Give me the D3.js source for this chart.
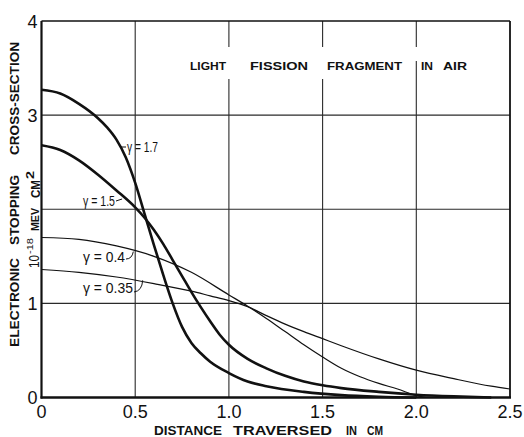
<!DOCTYPE html>
<html>
<head>
<meta charset="utf-8">
<script src="https://cdn.jsdelivr.net/npm/d3@7"></script>
<style>
  body { margin: 0; background: #fff; }
  svg { display: block; }
</style>
</head>
<body>
<svg id="chart" width="524" height="437"></svg>
<script>
// Axis ticks and labels
const xTicks = [0, 0.5, 1.0, 1.5, 2.0, 2.5];
const xTickLabels = ["0", "0.5", "1.0", "1.5", "2.0", "2.5"];
const yTicks = [0, 1, 2, 3, 4];
const yTickLabels = ["0", "1", "", "3", "4"];

// Stopping cross-section (10^-18 MeV cm^2) against distance traversed (cm)
const xGamma17 = [0, 0.1, 0.2, 0.3, 0.35, 0.4, 0.45, 0.5, 0.55, 0.6, 0.65, 0.7, 0.75, 0.8, 0.85, 0.9, 1.0, 1.1, 1.2, 1.4, 1.6, 1.8, 2.0];
const yGamma17 = [3.27, 3.23, 3.12, 2.97, 2.87, 2.74, 2.55, 2.28, 1.95, 1.62, 1.30, 1.00, 0.75, 0.58, 0.47, 0.38, 0.26, 0.17, 0.12, 0.06, 0.025, 0.008, 0.0];

const xGamma15 = [0, 0.1, 0.2, 0.3, 0.4, 0.5, 0.55, 0.6, 0.65, 0.7, 0.75, 0.8, 0.85, 0.9, 0.95, 1.0, 1.1, 1.2, 1.3, 1.4, 1.5, 1.6, 1.8, 2.0, 2.2, 2.4];
const yGamma15 = [2.68, 2.63, 2.52, 2.37, 2.20, 2.02, 1.91, 1.78, 1.63, 1.46, 1.29, 1.12, 0.96, 0.81, 0.67, 0.56, 0.41, 0.31, 0.23, 0.17, 0.13, 0.10, 0.06, 0.03, 0.012, 0.0];

const xGamma04 = [0, 0.2, 0.4, 0.6, 0.8, 1.0, 1.1, 1.2, 1.3, 1.4, 1.5, 1.6, 1.7, 1.8, 1.9, 2.0, 2.05];
const yGamma04 = [1.70, 1.68, 1.61, 1.50, 1.33, 1.09, 0.97, 0.84, 0.70, 0.56, 0.43, 0.31, 0.22, 0.15, 0.09, 0.02, 0.0];

const xGamma035 = [0, 0.2, 0.4, 0.6, 0.8, 0.9, 1.0, 1.1, 1.2, 1.3, 1.4, 1.5, 1.6, 1.8, 2.0, 2.2, 2.4, 2.5];
const yGamma035 = [1.36, 1.33, 1.28, 1.21, 1.13, 1.08, 1.03, 0.965, 0.87, 0.78, 0.70, 0.625, 0.55, 0.41, 0.29, 0.20, 0.12, 0.09];

const seriesLabels = ["\u03B3 = 1.7", "\u03B3 = 1.5", "\u03B3 = 0.4", "\u03B3 = 0.35"];

const svg = d3.select("#chart");
const ink = "#111";
const font = "'Liberation Sans', Arial, sans-serif";

const x = d3.scaleLinear().domain([0, 2.5]).range([41.5, 510]);
const y = d3.scaleLinear().domain([0, 4]).range([397.5, 21]);

svg.append("rect").attr("width", 524).attr("height", 437).attr("fill", "#fff");

// Grid
const grid = svg.append("g").attr("stroke", "#2a2a2a").attr("stroke-width", 1.1);
grid.selectAll("line.v").data(xTicks.slice(1, -1)).join("line")
  .attr("x1", d => x(d)).attr("x2", d => x(d))
  .attr("y1", y(4)).attr("y2", y(0));
grid.selectAll("line.h").data(yTicks.slice(1, -1)).join("line")
  .attr("x1", x(0)).attr("x2", x(2.5))
  .attr("y1", d => y(d)).attr("y2", d => y(d));

// Gaps in the grid around the heading
svg.append("rect").attr("x", 200).attr("y", 47).attr("width", 210).attr("height", 32).attr("fill", "#fff");
svg.append("rect").attr("x", x(2.0) - 2).attr("y", 47).attr("width", 4).attr("height", 14).attr("fill", "#fff");

// Frame
svg.append("line").attr("x1", x(0)).attr("x2", x(2.5)).attr("y1", y(4)).attr("y2", y(4))
  .attr("stroke", ink).attr("stroke-width", 1.6);
svg.append("line").attr("x1", x(2.5)).attr("x2", x(2.5)).attr("y1", y(4)).attr("y2", y(0))
  .attr("stroke", ink).attr("stroke-width", 1.8);
svg.append("line").attr("x1", x(0)).attr("x2", x(0)).attr("y1", y(4)).attr("y2", y(0) + 1)
  .attr("stroke", ink).attr("stroke-width", 2.2);
svg.append("line").attr("x1", x(0) - 1).attr("x2", x(2.5) + 1).attr("y1", y(0)).attr("y2", y(0))
  .attr("stroke", ink).attr("stroke-width", 2.6);

// Tick labels
svg.append("g").selectAll("text").data(xTicks).join("text")
  .attr("x", d => x(d)).attr("y", 418)
  .attr("text-anchor", "middle")
  .attr("font-family", font).attr("font-size", 18).attr("fill", ink)
  .text((d, i) => xTickLabels[i]);

svg.append("g").selectAll("text").data(yTicks).join("text")
  .attr("x", 37.5).attr("y", d => y(d) + 6.5)
  .attr("text-anchor", "end")
  .attr("font-family", font).attr("font-size", 18).attr("fill", ink)
  .text((d, i) => yTickLabels[i]);

// Curves
const line = d3.line().x(d => x(d[0])).y(d => y(d[1])).curve(d3.curveMonotoneX);
const series = [
  { xs: xGamma17, ys: yGamma17, w: 2.6 },
  { xs: xGamma15, ys: yGamma15, w: 2.6 },
  { xs: xGamma04, ys: yGamma04, w: 1.2 },
  { xs: xGamma035, ys: yGamma035, w: 1.2 }
];
svg.append("g").selectAll("path").data(series).join("path")
  .attr("d", s => line(s.xs.map((v, i) => [v, s.ys[i]])))
  .attr("fill", "none").attr("stroke", ink)
  .attr("stroke-width", s => s.w).attr("stroke-linejoin", "round");

// Curve labels with leaders
const labelPos = [
  { tx: 127, ty: 152, len: 31 },
  { tx: 83, ty: 206, len: 32 },
  { tx: 83, ty: 262, len: 42 },
  { tx: 83, ty: 293, len: 50 }
];
svg.append("g").selectAll("text").data(labelPos).join("text")
  .attr("x", d => d.tx).attr("y", d => d.ty)
  .attr("textLength", d => d.len).attr("lengthAdjust", "spacingAndGlyphs")
  .attr("font-family", font).attr("font-size", 15).attr("fill", ink)
  .text((d, i) => seriesLabels[i]);

const leaders = [
  `M${x(0.42)},147 L126,147`,
  `M116,201 L${x(0.43)},199`,
  `M126,259 Q132,259 ${x(0.49)},${y(1.55)}`,
  `M134,292 Q142,291 ${x(0.54)},${y(1.245)}`
];
svg.append("g").selectAll("path").data(leaders).join("path")
  .attr("d", d => d).attr("fill", "none").attr("stroke", ink).attr("stroke-width", 1);

// Heading
const headingWords = [
  { t: "LIGHT", x0: 190, x1: 226 },
  { t: "FISSION", x0: 250, x1: 308 },
  { t: "FRAGMENT", x0: 327, x1: 402 },
  { t: "IN", x0: 421, x1: 433 },
  { t: "AIR", x0: 443, x1: 467 }
];
svg.append("g").selectAll("text").data(headingWords).join("text")
  .attr("x", d => d.x0).attr("y", 70)
  .attr("textLength", d => d.x1 - d.x0).attr("lengthAdjust", "spacingAndGlyphs")
  .attr("font-family", font).attr("font-weight", "bold").attr("font-size", 11.5).attr("fill", ink)
  .text(d => d.t);

// X axis title
const xTitleWords = [
  { t: "DISTANCE", x0: 154, x1: 222 },
  { t: "TRAVERSED", x0: 233, x1: 332 },
  { t: "IN", x0: 346, x1: 357 },
  { t: "CM", x0: 367, x1: 383 }
];
svg.append("g").selectAll("text").data(xTitleWords).join("text")
  .attr("x", d => d.x0).attr("y", 435)
  .attr("textLength", d => d.x1 - d.x0).attr("lengthAdjust", "spacingAndGlyphs")
  .attr("font-family", font).attr("font-weight", "bold").attr("font-size", 13).attr("fill", ink)
  .text(d => d.t);

// Y axis title (rotated, reading upward)
const yTitleWords = [
  { t: "ELECTRONIC", y0: 347, y1: 258 },
  { t: "STOPPING", y0: 245, y1: 175 },
  { t: "CROSS-SECTION", y0: 155, y1: 42 }
];
svg.append("g").selectAll("text").data(yTitleWords).join("text")
  .attr("transform", d => `translate(19,${d.y0}) rotate(-90)`)
  .attr("textLength", d => d.y0 - d.y1).attr("lengthAdjust", "spacingAndGlyphs")
  .attr("font-family", font).attr("font-weight", "bold").attr("font-size", 13).attr("fill", ink)
  .text(d => d.t);

// Unit label: 10^-18 MEV CM^2
const unitParts = [
  { t: "10", y0: 268, y1: 255, bx: 39, fs: 14, w: "normal" },
  { t: "-18", y0: 254, y1: 238, bx: 33, fs: 9, w: "normal" },
  { t: "MEV", y0: 231, y1: 208, bx: 38.5, fs: 10, w: "bold" },
  { t: "CM", y0: 198, y1: 180, bx: 39.5, fs: 13, w: "bold" },
  { t: "2", y0: 179, y1: 171, bx: 34, fs: 10, w: "bold" }
];
svg.append("g").selectAll("text").data(unitParts).join("text")
  .attr("transform", d => `translate(${d.bx},${d.y0}) rotate(-90)`)
  .attr("textLength", d => d.y0 - d.y1).attr("lengthAdjust", "spacingAndGlyphs")
  .attr("font-family", font).attr("font-weight", d => d.w).attr("font-size", d => d.fs).attr("fill", ink)
  .text(d => d.t);
</script>
</body>
</html>
